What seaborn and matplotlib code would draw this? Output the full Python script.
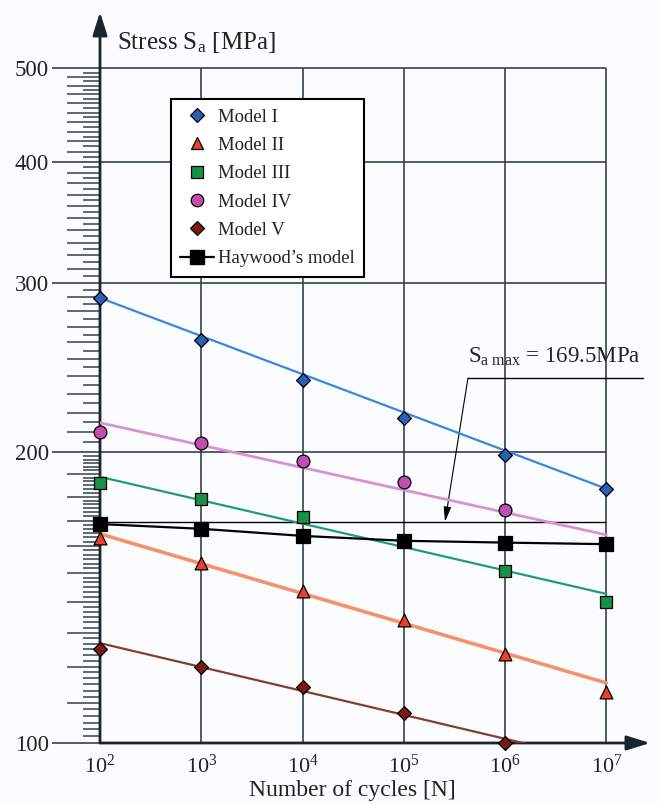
import numpy as np
import matplotlib
matplotlib.use("Agg")
import matplotlib.pyplot as plt
from matplotlib.lines import Line2D
from matplotlib.ticker import NullLocator
import seaborn as sns

# ---- data -------------------------------------------------------------
cycles = [1e2, 1e3, 1e4, 1e5, 1e6, 1e7]
model_1 = [289.2, 261.6, 237.7, 217.2, 198.8, 183.4]
model_2 = [163.1, 153.6, 143.8, 134.1, 123.6, 113.0]
model_3 = [186.0, 179.0, 171.5, np.nan, 150.9, 140.1]
model_4 = [210.0, 204.6, 196.0, 186.4, 174.2, np.nan]
model_5 = [125.1, 120.0, 114.3, 107.5, 100.1, np.nan]
haywood = [168.6, 166.7, 163.9, 162.0, 161.3, 160.7]

# straight trend lines (log-log), values at N = 1e2 and N = 1e7
trend_cycles = [1e2, 1e7]
trend_1 = [289.2, 183.4]
trend_2 = [164.7, 115.4]
trend_3 = [188.7, 142.7]
trend_4 = [214.7, 164.3]
trend_5 = [126.9, 95.4]

sa_max = 169.5
y_ticks = [100, 200, 300, 400, 500]
x_exponents = [2, 3, 4, 5, 6, 7]
legend_labels = ["Model I", "Model II", "Model III", "Model IV", "Model V",
                 "Haywood\u2019s model"]

# ---- style ------------------------------------------------------------
sns.set_theme(style="white")
plt.rcParams["font.family"] = ["Liberation Serif", "DejaVu Serif"]
plt.rcParams["mathtext.fontset"] = "custom"
plt.rcParams["mathtext.rm"] = "Liberation Serif"
plt.rcParams["mathtext.it"] = "Liberation Serif:italic"
plt.rcParams["mathtext.bf"] = "Liberation Serif:bold"

bg = "#fbfcfe"
grid_c = "#34414b"
ink = "#1b252d"
txt = "#222222"

fig = plt.figure(figsize=(6.58, 8.05), dpi=100, facecolor=bg)
ax = fig.add_axes([100 / 658, 62 / 805, 550 / 658, 731 / 805])
ax.set_facecolor(bg)
ax.set_xscale("log")
ax.set_yscale("log")
ax.set_xlim(1e2, 10 ** 7.43)
ax.set_ylim(100, 572)
for s in ax.spines.values():
    s.set_visible(False)

# grid box
ax.hlines(y_ticks[1:], 1e2, 1e7, color=grid_c, lw=1.2, zorder=1)
ax.vlines([10.0 ** e for e in x_exponents[1:]], 100, 500, color=grid_c, lw=1.2, zorder=1)

# minor scale marks on the stress axis
long_marks = [v for v in range(110, 500, 10) if v % 100 != 0]
short_marks = list(np.arange(100, 200, 10 / 6)) + list(range(205, 500, 10))
short_marks = [v for v in short_marks if abs(v - round(v / 10) * 10) > 0.1]
ytr = ax.get_yaxis_transform()
ax.hlines(long_marks, -33 / 550, 0, transform=ytr, color=grid_c, lw=1.1, clip_on=False)
ax.hlines(short_marks, -17 / 550, 0, transform=ytr, color=grid_c, lw=1.1, clip_on=False)

# axes with arrow heads
arrow_kw = dict(arrowstyle="-|>,head_length=0.7,head_width=0.22", color=ink,
                lw=2, mutation_scale=20, shrinkA=0, shrinkB=0)
ax.annotate("", xy=(0, 1), xytext=(0, 0), xycoords="axes fraction",
            arrowprops=arrow_kw, zorder=2)
ax.annotate("", xy=(1, 0), xytext=(0, 0), xycoords="axes fraction",
            arrowprops=arrow_kw, zorder=2)

# S_a max reference level
ax.hlines(sa_max, 1e2, 1e7, color="black", lw=1.0, zorder=2)

# trend lines
sns.lineplot(x=trend_cycles, y=trend_1, color="#3c84de", lw=1.6, ax=ax, zorder=3)
sns.lineplot(x=trend_cycles, y=trend_4, color="#d891d6", lw=2.0, ax=ax, zorder=3)
sns.lineplot(x=trend_cycles, y=trend_3, color="#1f9c78", lw=1.6, ax=ax, zorder=3)
sns.lineplot(x=trend_cycles, y=trend_2, color="#f7906e", lw=2.6, ax=ax, zorder=3)
sns.lineplot(x=trend_cycles, y=trend_5, color="#8a3b2e", lw=1.6, ax=ax, zorder=3)
sns.lineplot(x=cycles, y=haywood, color="black", lw=1.6, ax=ax, zorder=4)

# data points
pts = dict(edgecolor="black", linewidth=0.9, ax=ax, zorder=5, clip_on=False)
sns.scatterplot(x=cycles, y=model_1, marker="D", s=50, color="#2b5fb4", **pts)
sns.scatterplot(x=cycles, y=model_4, marker="o", s=85, color="#c04fb0", **pts)
sns.scatterplot(x=cycles, y=model_3, marker="s", s=80, color="#17904a", **pts)
sns.scatterplot(x=cycles, y=model_2, marker="^", s=85, color="#e8412c", **pts)
sns.scatterplot(x=cycles, y=model_5, marker="D", s=50, color="#7a1a12", **pts)
sns.scatterplot(x=cycles, y=haywood, marker="s", s=95, color="black", **pts)

# ticks
ax.xaxis.set_minor_locator(NullLocator())
ax.yaxis.set_minor_locator(NullLocator())
ax.set_yticks(y_ticks)
ax.set_yticklabels([str(v) for v in y_ticks], fontsize=16.5, color=txt)
ax.tick_params(axis="y", which="major", left=True, length=34.6, width=1.2,
               color=grid_c, pad=2)
ax.set_xticks([10.0 ** e for e in x_exponents])
ax.set_xticklabels([f"$10^{{{e}}}$" for e in x_exponents], fontsize=16, color=txt)
ax.tick_params(axis="x", which="major", length=0, pad=8)
ax.set_xlabel("")
ax.set_ylabel("")

# axis titles
ax.text(0.031, 0.958, "Stress S$_{\\mathrm{a}}$ [MPa]", transform=ax.transAxes,
        fontsize=18, va="center", ha="left", color=txt)
fig.text(352 / 658, 1 - 790 / 805, "Number of cycles [N]", fontsize=17,
         ha="center", va="center", color=txt)

# S_a max callout
ax.text(10 ** 6.49, 251, f"S$_{{\\mathrm{{a\\ max}}}}$ = {sa_max}MPa",
        fontsize=16.5, ha="center", va="center", color=txt)
ax.plot([10 ** 5.633, 10 ** 7.36], [238.9, 238.9], color="black", lw=1.0,
        clip_on=False, zorder=2)
ax.annotate("", xy=(10 ** 5.406, sa_max), xytext=(10 ** 5.633, 238.9),
            xycoords="data",
            arrowprops=dict(arrowstyle="-|>,head_length=0.6,head_width=0.15",
                            color="black", lw=0.8, mutation_scale=15,
                            shrinkA=0, shrinkB=0), zorder=2)

# legend
edge = dict(markeredgecolor="black", markeredgewidth=0.9, linestyle="none")
handles = [
    Line2D([], [], marker="D", markersize=7, color="#2b5fb4", **edge),
    Line2D([], [], marker="^", markersize=9, color="#e8412c", **edge),
    Line2D([], [], marker="s", markersize=8.5, color="#17904a", **edge),
    Line2D([], [], marker="o", markersize=9, color="#c04fb0", **edge),
    Line2D([], [], marker="D", markersize=7, color="#7a1a12", **edge),
    Line2D([], [], marker="s", markersize=9.5, color="black", lw=1.6,
           markeredgecolor="black"),
]
leg = fig.legend(handles, legend_labels, loc="upper left",
                 bbox_to_anchor=(171 / 658, 1 - 99 / 805), fontsize=13.5,
                 frameon=True, fancybox=False, framealpha=1, edgecolor="black",
                 handlelength=1.8, handletextpad=0.2, labelspacing=0.6,
                 borderpad=0.5, borderaxespad=0)
leg.get_frame().set_linewidth(1.5)
leg.get_frame().set_facecolor("white")
for t in leg.get_texts():
    t.set_color(txt)

fig.savefig("out.png", dpi=100, facecolor=bg)
